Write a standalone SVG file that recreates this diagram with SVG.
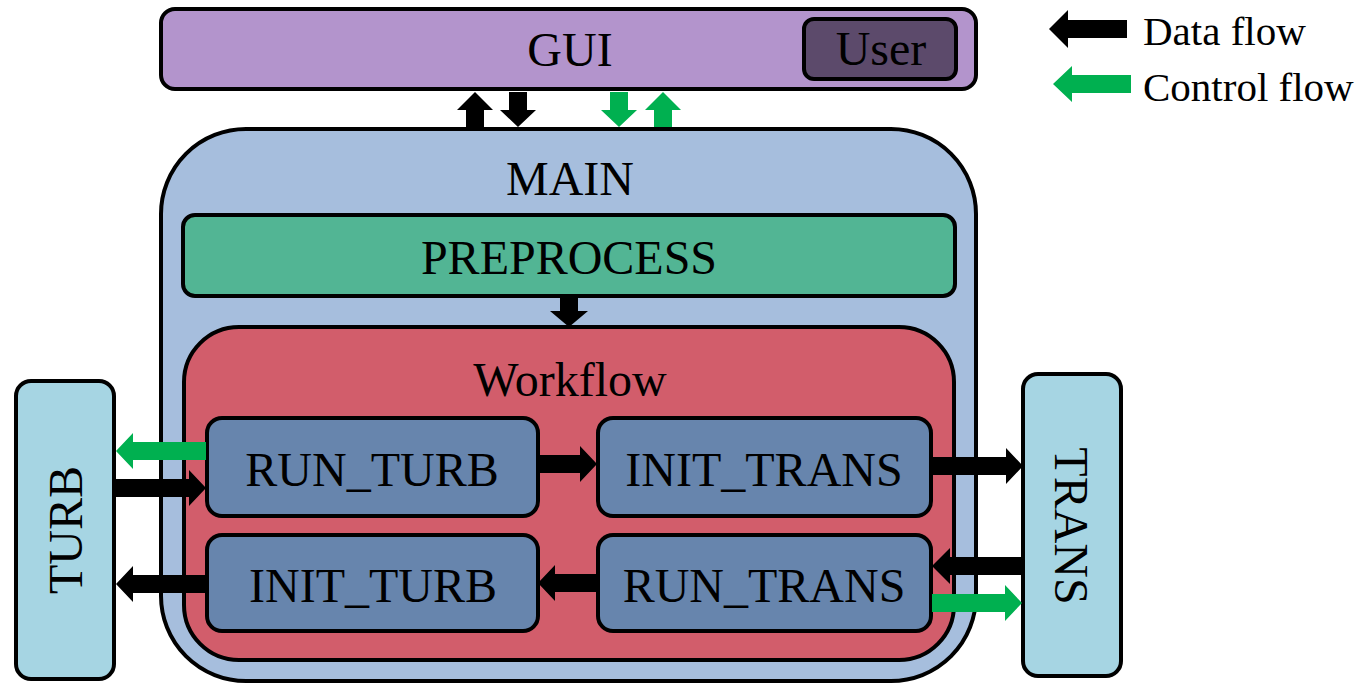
<svg xmlns="http://www.w3.org/2000/svg" width="1369" height="684" viewBox="0 0 1369 684">
  <style>
    .box { stroke: #000; stroke-width: 4; }
    .lbl { font-family: "Liberation Serif", "Times New Roman", serif; font-size: 48px; fill: #000; text-anchor: middle; }
    .leg { font-family: "Liberation Serif", "Times New Roman", serif; font-size: 41px; fill: #000; }
    .data { fill: #000; }
    .ctrl { fill: #00b050; }
  </style>
  <rect width="1369" height="684" fill="#fff"/>

  <g id="gui">
    <rect class="box" x="161" y="9" width="815" height="80" rx="14" fill="#b394cc"/>
    <text class="lbl" x="570" y="66">GUI</text>
  </g>
  <g id="user">
    <rect class="box" x="804" y="19" width="152" height="60" rx="10" fill="#5c4a6b"/>
    <text class="lbl" x="881" y="65">User</text>
  </g>

  <g id="main">
    <rect class="box" x="161" y="129" width="815" height="552" rx="85" fill="#a6bedd"/>
    <text class="lbl" x="570" y="195">MAIN</text>
  </g>
  <g id="preprocess">
    <rect class="box" x="183" y="215" width="772" height="81" rx="12" fill="#52b594"/>
    <text class="lbl" x="569" y="274">PREPROCESS</text>
  </g>
  <g id="workflow">
    <rect class="box" x="184" y="327" width="770" height="333" rx="55" fill="#d25d6b"/>
    <text class="lbl" x="570" y="396">Workflow</text>
  </g>
  <g id="run_turb">
    <rect class="box" x="207" y="418" width="331" height="98" rx="15" fill="#6785ad"/>
    <text class="lbl" x="372" y="486">RUN_TURB</text>
  </g>
  <g id="init_trans">
    <rect class="box" x="598" y="418" width="333" height="98" rx="15" fill="#6785ad"/>
    <text class="lbl" x="764" y="486">INIT_TRANS</text>
  </g>
  <g id="init_turb">
    <rect class="box" x="207" y="535" width="331" height="96" rx="15" fill="#6785ad"/>
    <text class="lbl" x="373" y="602">INIT_TURB</text>
  </g>
  <g id="run_trans">
    <rect class="box" x="598" y="535" width="333" height="96" rx="15" fill="#6785ad"/>
    <text class="lbl" x="764" y="602">RUN_TRANS</text>
  </g>
  <g id="turb">
    <rect class="box" x="16" y="381" width="98" height="298" rx="15" fill="#a6d5e3"/>
    <text class="lbl" transform="translate(82 530) rotate(-90)">TURB</text>
  </g>
  <g id="trans">
    <rect class="box" x="1023" y="374" width="98" height="302" rx="15" fill="#a6d5e3"/>
    <text class="lbl" transform="translate(1055 526) rotate(90)">TRANS</text>
  </g>

  <!-- block arrows: black = data, green = control -->
  <g id="connectors">
    <!-- GUI <-> MAIN -->
    <polygon class="data" points="466,127 466,110 457,110 475,92 493,110 484,110 484,127"/>
    <polygon class="data" points="509,92 527,92 527,110 536,110 518,127 500,110 509,110"/>
    <polygon class="ctrl" points="610,92 628,92 628,110 637,110 619,127 601,110 610,110"/>
    <polygon class="ctrl" points="654,127 654,110 645,110 663,92 681,110 672,110 672,127"/>
    <!-- PREPROCESS -> Workflow -->
    <polygon class="data" points="560,296 578,296 578,311 588,311 569,327 550,311 560,311"/>
    <!-- TURB side -->
    <polygon class="ctrl" points="206,442 133,442 133,433 116,451 133,469 133,460 206,460"/>
    <polygon class="data" points="115,479 189,479 189,470 206,488 189,506 189,497 115,497"/>
    <polygon class="data" points="207,575 133,575 133,566 116,584 133,602 133,593 207,593"/>
    <!-- inside Workflow -->
    <polygon class="data" points="538,455 580,455 580,446 597,464 580,482 580,473 538,473"/>
    <polygon class="data" points="598,574 555,574 555,565 538,583 555,601 555,592 598,592"/>
    <!-- TRANS side -->
    <polygon class="data" points="932,457 1006,457 1006,448 1023,466 1006,484 1006,475 932,475"/>
    <polygon class="data" points="1023,557 950,557 950,548 932,566 950,584 950,575 1023,575"/>
    <polygon class="ctrl" points="932,594 1005,594 1005,585 1022,603 1005,621 1005,612 932,612"/>
  </g>

  <g id="legend">
    <polygon class="data" points="1127,20 1068,20 1068,10 1049,29 1068,48 1068,38 1127,38"/>
    <text class="leg" x="1143" y="45">Data flow</text>
    <polygon class="ctrl" points="1131,75 1072,75 1072,66 1053,84 1072,102 1072,93 1131,93"/>
    <text class="leg" x="1143" y="101">Control flow</text>
  </g>
</svg>
